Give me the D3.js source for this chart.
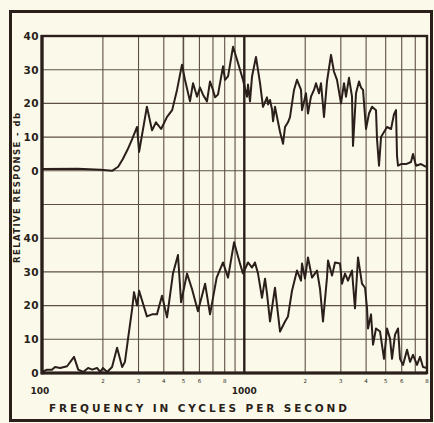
<!DOCTYPE html>
<html>
<head>
<meta charset="utf-8">
<script src="https://cdn.jsdelivr.net/npm/d3@7"></script>
<style>
  html, body { margin: 0; padding: 0; background: #fbfaea; }
  svg { display: block; }
  text { font-family: "DejaVu Sans", sans-serif; fill: #2a1f1a; }
</style>
</head>
<body>
<svg id="chart" width="434" height="423"></svg>
<script>
// Frequency response, upper trace (Hz, relative dB)
const upperFreq = [100, 150, 195, 222, 238, 251, 265, 279, 295, 302, 330, 350, 366, 388, 415, 440, 465, 492, 509, 539, 558, 584, 604, 625, 654, 677, 700, 717, 741, 785, 803, 831, 880, 931, 985, 1031, 1043, 1067, 1092, 1142, 1196, 1237, 1295, 1310, 1340, 1371, 1387, 1418, 1502, 1554, 1590, 1644, 1682, 1761, 1822, 1907, 1929, 2018, 2064, 2136, 2211, 2262, 2340, 2394, 2477, 2563, 2683, 2776, 2872, 3006, 3111, 3182, 3292, 3407, 3446, 3566, 3690, 3775, 3862, 3996, 4135, 4280, 4477, 4529, 4634, 4741, 4905, 5075, 5313, 5495, 5622, 5687, 5753, 5952, 6302, 6668, 6822, 7059, 7473, 7911];
const upperDb = [0.5, 0.6, 0.3, 0, 1.2, 3.5, 6.3, 9.4, 13, 5.6, 19, 12, 14.4, 12.4, 16, 18, 24, 31.5, 27, 20.6, 26, 22, 24.7, 22.6, 20.6, 26.5, 24, 21.8, 22.6, 31, 27, 28, 36.8, 32, 27, 22, 25.6, 20.6, 28, 33.8, 26, 19, 21.8, 19.7, 21, 18.2, 14.7, 19, 11.5, 8, 13, 14.4, 15.9, 24, 27, 24, 18, 23, 17, 22, 24, 26, 23, 26, 16, 26.5, 34.4, 29.4, 27, 20, 26, 22, 27.6, 22, 7.4, 23, 26.5, 24.7, 24, 12.4, 17, 19, 18, 9.4, 1.5, 10, 11.5, 13, 12.4, 16.8, 18, 4.4, 1.5, 2, 2, 2.6, 5, 1.5, 2, 1.2];

// Frequency response, lower trace (Hz, relative dB)
const lowerFreq = [100, 106, 112, 116, 123, 133, 144, 151, 160, 169, 177, 187, 194, 200, 210, 222, 235, 249, 257, 266, 279, 285, 295, 302, 330, 350, 370, 392, 415, 444, 470, 487, 521, 551, 590, 640, 677, 730, 785, 831, 890, 952, 985, 1043, 1092, 1129, 1169, 1223, 1266, 1295, 1340, 1418, 1468, 1502, 1590, 1644, 1721, 1822, 1907, 1929, 1995, 2064, 2161, 2288, 2367, 2449, 2563, 2593, 2714, 2808, 2972, 3041, 3147, 3255, 3407, 3525, 3648, 3817, 3951, 4043, 4089, 4231, 4329, 4477, 4688, 4905, 5075, 5252, 5373, 5559, 5753, 5885, 6088, 6374, 6596, 6822, 7141, 7388, 7643, 8000];
const lowerDb = [0.3, 1, 1, 1.8, 1.5, 2, 4.8, 1, 0.3, 1.5, 1, 1.5, 0.3, 1.5, 0.3, 1.8, 7.5, 1.8, 3.3, 10, 19, 24, 20, 24.4, 16.8, 17.4, 17.4, 22.9, 16.5, 29.5, 35, 21, 29.5, 25, 18.3, 26.5, 17.4, 28.3, 32.8, 28.3, 38.8, 32.5, 29.5, 32.8, 31.3, 32.8, 29.5, 22.3, 28, 23.5, 15.3, 25.3, 17.4, 12.3, 15.3, 16.8, 24.4, 30.4, 27.4, 32.5, 28, 34.3, 28.3, 30.4, 25, 15.3, 28.3, 33.4, 28.9, 32.8, 32.5, 26.5, 29.5, 27.4, 30.4, 19.2, 34.3, 26.5, 25.3, 19.2, 13.2, 17.4, 8.4, 13.2, 12.3, 4.2, 13.2, 10.2, 4.2, 11.4, 13.2, 4.2, 2.4, 6.9, 3.3, 5.4, 2.4, 4.8, 1.8, 1.5];

// Axis ticks
const dbTicks = [0, 10, 20, 30, 40];
const gridFreqs = [200, 300, 400, 500, 600, 700, 800, 900, 1000, 2000, 3000, 4000, 5000, 6000, 7000];
const freqLabelValues = [100, 200, 300, 400, 500, 600, 800, 1000, 2000, 3000, 4000, 5000, 6000, 8000];
const freqLabelText = ["100", "2", "3", "4", "5", "6", "8", "1000", "2", "3", "4", "5", "6", "8"];

const ink = "#2a1f1a";
const gridInk = "#5e4f44";

const svg = d3.select("#chart");
const plotLeft = 42, plotRight = 427, plotTop = 36, plotBottom = 373;
const step = (plotBottom - plotTop) / 10;

const x = d3.scaleLog().domain([100, 8000]).range([plotLeft, plotRight]);
const yUpper = d3.scaleLinear().domain([0, 40]).range([plotTop + 4 * step, plotTop]);
const yLower = d3.scaleLinear().domain([0, 40]).range([plotBottom, plotBottom - 4 * step]);

// Outer border
svg.append("rect")
  .attr("x", 10.5).attr("y", 11.5).attr("width", 421).attr("height", 409)
  .attr("fill", "none").attr("stroke", ink).attr("stroke-width", 3);

// Horizontal grid: ten 10-db divisions spanning both traces
const gridLevels = d3.range(-60, 41, 10);
svg.append("g")
  .selectAll("line").data(gridLevels).join("line")
  .attr("x1", plotLeft).attr("x2", plotRight)
  .attr("y1", d => yUpper(d)).attr("y2", d => yUpper(d))
  .attr("stroke", gridInk).attr("stroke-width", 1.1);

// Vertical grid on the log frequency scale
svg.append("g")
  .selectAll("line").data(gridFreqs).join("line")
  .attr("x1", d => x(d)).attr("x2", d => x(d))
  .attr("y1", plotTop).attr("y2", plotBottom)
  .attr("stroke", d => d === 1000 ? ink : gridInk)
  .attr("stroke-width", d => d === 1000 ? 2.4 : (d === 500 ? 1.6 : 1.1));

// Plot frame
svg.append("rect")
  .attr("x", plotLeft).attr("y", plotTop).attr("width", plotRight - plotLeft).attr("height", plotBottom - plotTop)
  .attr("fill", "none").attr("stroke", ink).attr("stroke-width", 2.4);
svg.append("line")
  .attr("x1", plotLeft).attr("x2", plotLeft).attr("y1", plotTop - 1).attr("y2", plotBottom + 1.5)
  .attr("stroke", ink).attr("stroke-width", 3.2);
svg.append("line")
  .attr("x1", plotLeft).attr("x2", plotRight).attr("y1", plotBottom).attr("y2", plotBottom)
  .attr("stroke", ink).attr("stroke-width", 3);

// Traces
const upperLine = d3.line().x((d, i) => x(upperFreq[i])).y(d => yUpper(d)).curve(d3.curveLinear);
const lowerLine = d3.line().x((d, i) => x(lowerFreq[i])).y(d => yLower(d)).curve(d3.curveLinear);

svg.append("path").datum(upperDb).attr("d", upperLine)
  .attr("fill", "none").attr("stroke", ink).attr("stroke-width", 2)
  .attr("stroke-linejoin", "round");
svg.append("path").datum(lowerDb).attr("d", lowerLine)
  .attr("fill", "none").attr("stroke", ink).attr("stroke-width", 2)
  .attr("stroke-linejoin", "round");

// Db labels for both traces
function dbAxis(scale) {
  const g = svg.append("g").attr("transform", `translate(${plotLeft - 2},0)`)
    .call(d3.axisLeft(scale).tickValues(dbTicks).tickSize(0).tickPadding(1).tickFormat(d3.format("d")));
  g.select(".domain").remove();
  g.selectAll("text")
    .attr("font-family", "DejaVu Sans, sans-serif")
    .attr("font-size", 10.5).attr("font-weight", "bold")
    .attr("letter-spacing", 0.4)
    .attr("fill", ink);
}
dbAxis(yUpper);
dbAxis(yLower);

// Frequency labels
svg.append("g")
  .selectAll("text").data(freqLabelValues).join("text")
  .attr("x", d => x(d) + (d === 100 ? -2 : 0))
  .attr("y", (d, i) => freqLabelText[i].length > 1 ? 394 : 383)
  .attr("text-anchor", "middle")
  .attr("font-size", (d, i) => freqLabelText[i].length > 1 ? 9 : 5.5)
  .attr("font-weight", (d, i) => freqLabelText[i].length > 1 ? "bold" : "normal")
  .attr("fill", ink)
  .text((d, i) => freqLabelText[i]);

// Axis titles
svg.append("text")
  .attr("x", 49).attr("y", 412)
  .attr("font-size", 10.5).attr("font-weight", "bold")
  .attr("textLength", 298).attr("lengthAdjust", "spacing")
  .text("FREQUENCY  IN  CYCLES  PER  SECOND");

svg.append("text")
  .attr("transform", "translate(20,263) rotate(-90)")
  .attr("font-size", 8.5).attr("font-weight", "bold")
  .attr("textLength", 150).attr("lengthAdjust", "spacing")
  .text("RELATIVE RESPONSE - db");
</script>
</body>
</html>
